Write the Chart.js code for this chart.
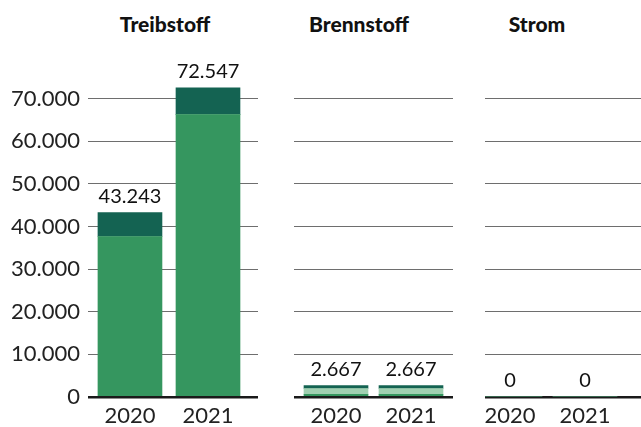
<!DOCTYPE html>
<html lang="de">
<head>
<meta charset="UTF-8">
<title>Treibstoff, Brennstoff, Strom</title>
<script src="https://cdn.jsdelivr.net/npm/chart.js"></script>
<style>
  * { margin: 0; padding: 0; box-sizing: border-box; }
  body { width: 641px; height: 427px; background: #fff; position: relative; overflow: hidden; font-family: 'Lato', sans-serif; }
  .panel { position: absolute; top: 0; height: 427px; }
  .title { position: absolute; top: 11px; font-weight: 900; font-size: 21px; color: #111; transform: translateX(-50%); white-space: nowrap; }
</style>
</head>
<body>

<div class="title" style="left:165px">Treibstoff</div>
<div class="title" style="left:359px">Brennstoff</div>
<div class="title" style="left:537px">Strom</div>

<div class="panel" style="left:0;width:258px"><canvas id="c1"></canvas></div>
<div class="panel" style="left:294px;width:159px"><canvas id="c2"></canvas></div>
<div class="panel" style="left:485px;width:156px"><canvas id="c3"></canvas></div>

<script>
    const years = ['2020', '2021'];
    const yTicks = [0, 10000, 20000, 30000, 40000, 50000, 60000, 70000];

    // Treibstoff
    const treibGreen = [37650, 66240];
    const treibDark = [5593, 6307];
    // Brennstoff
    const brennGreen = [600, 600];
    const brennPale = [1400, 1400];
    const brennDark = [667, 667];
    // Strom
    const stromVals = [0, 0];

    const GREEN = '#35965f';
    const PALE = '#a0d0b1';
    const DARK = '#146352';

    function fmt(n) {
        return String(n).replace(/\B(?=(\d{3})+(?!\d))/g, '.');
    }

    function toPoints(arr) {
        return arr.map((v, i) => ({ x: i, y: v }));
    }

    // sum labels on top of every stack
    const totalLabels = {
        id: 'totalLabels',
        afterDatasetsDraw(chart) {
            const ctx = chart.ctx;
            const xs = chart.scales.x, ys = chart.scales.y;
            ctx.save();
            ctx.font = '20px Lato';
            ctx.fillStyle = '#111';
            ctx.textAlign = 'center';
            ctx.textBaseline = 'bottom';
            years.forEach((y, i) => {
                let total = 0;
                chart.data.datasets.forEach(ds => { total += ds.data[i].y; });
                ctx.fillText(fmt(total), xs.getPixelForValue(i), ys.getPixelForValue(total) - 6);
            });
            ctx.restore();
        }
    };

    function makeChart(id, datasets, showY, xmin, xmax) {
        return new Chart(document.getElementById(id), {
            type: 'bar',
            data: { datasets: datasets },
            options: {
                responsive: true,
                maintainAspectRatio: false,
                animation: false,
                layout: { padding: { top: 56, left: 0, right: 0, bottom: 0 } },
                plugins: { legend: { display: false }, tooltip: { enabled: false } },
                datasets: { bar: { barThickness: 64, borderWidth: 0 } },
                scales: {
                    x: {
                        type: 'linear',
                        stacked: true,
                        offset: false,
                        min: xmin,
                        max: xmax,
                        afterBuildTicks: s => { s.ticks = years.map((y, i) => ({ value: i })); },
                        afterFit: s => { s.height = 30; s.paddingLeft = 0; s.paddingRight = 0; },
                        grid: { display: false, drawTicks: false, offset: false },
                        border: { display: false },
                        ticks: {
                            padding: 6,
                            color: '#222',
                            font: { family: 'Lato', size: 22 },
                            callback: v => years[v]
                        }
                    },
                    y: {
                        stacked: true,
                        min: 0,
                        max: 80000,
                        afterBuildTicks: s => { s.ticks = yTicks.map(v => ({ value: v })); },
                        afterFit: s => { s.width = showY ? 88 : 0; },
                        border: { display: false },
                        grid: {
                            drawTicks: false,
                            color: c => c.tick && c.tick.value === 0 ? '#1a1a1a' : '#6e6e6e',
                            lineWidth: c => c.tick && c.tick.value === 0 ? 2.5 : 1
                        },
                        ticks: {
                            display: showY,
                            padding: 8,
                            color: '#222',
                            font: { family: 'Lato', size: 22 },
                            callback: v => fmt(v)
                        }
                    }
                }
            },
            plugins: [totalLabels]
        });
    }

    makeChart('c1', [
        { label: 'a', data: toPoints(treibGreen), backgroundColor: GREEN },
        { label: 'b', data: toPoints([0, 0]), backgroundColor: PALE },
        { label: 'c', data: toPoints(treibDark), backgroundColor: DARK }
    ], true, -0.538, 1.641);

    makeChart('c2', [
        { label: 'a', data: toPoints(brennGreen), backgroundColor: GREEN },
        { label: 'b', data: toPoints(brennPale), backgroundColor: PALE },
        { label: 'c', data: toPoints(brennDark), backgroundColor: DARK }
    ], false, -0.56, 1.56);

    makeChart('c3', [
        { label: 'a', data: toPoints(stromVals), backgroundColor: GREEN },
        { label: 'b', data: toPoints(stromVals), backgroundColor: PALE },
        { label: 'c', data: toPoints(stromVals), backgroundColor: DARK }
    ], false, -0.333, 1.747);
</script>
</body>
</html>
